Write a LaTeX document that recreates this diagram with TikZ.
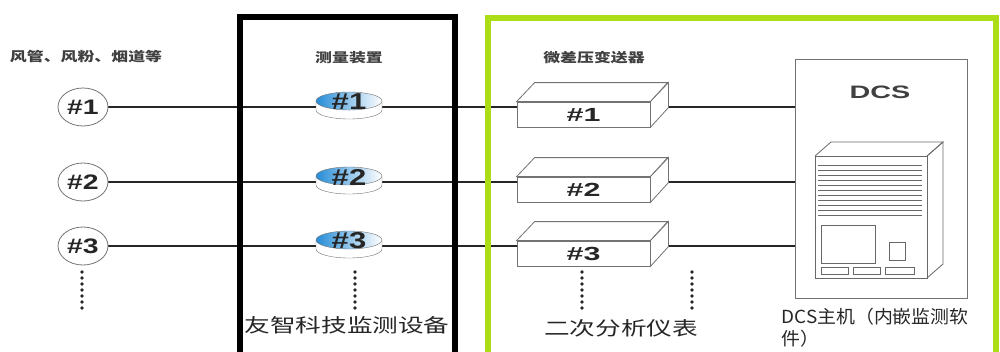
\documentclass[tikz,border=0pt]{standalone}
\usepackage{graphicx}
\usepackage{fontspec}
\setmainfont{Liberation Sans}
\newfontfamily\cjk{Noto Sans CJK SC}
\usetikzlibrary{shapes.geometric,backgrounds}

\definecolor{framegreen}{RGB}{172,222,24}
\definecolor{diskblue}{RGB}{38,140,215}
\definecolor{outline}{RGB}{115,115,115}

\newcommand{\hwide}[2][1.35]{\scalebox{#1}[1]{#2}}

\tikzset{
  pipe/.style={line width=1.8pt, black!85},
  source/.style={ellipse, draw=outline, thick, fill=white, minimum width=50pt,
    minimum height=38pt, inner sep=0pt, text=black!85,
    font=\bfseries\fontsize{21}{21}\selectfont},
  sender/.style={draw=outline, thick, fill=white, minimum width=133pt,
    minimum height=25pt, inner sep=0pt, text=black!85,
    font=\bfseries\fontsize{19}{19}\selectfont},
  heading/.style={text=black!75, font=\cjk\bfseries\fontsize{13}{13}\selectfont},
  caption/.style={text=black!85, font=\cjk\fontsize{19}{19}\selectfont},
  dot/.style={fill=black!85},
}

\begin{document}
\begin{tikzpicture}[x=1pt, y=-1pt]
  \useasboundingbox (0,0) rectangle (1000,351);
  \clip (0,0) rectangle (1000,351);

  % headings
  \node[heading] (hsrc) at (86,57) {\hwide[1.3]{风管、风粉、烟道等}};
  \node[heading] (hmeas) at (349,58) {\hwide[1.3]{测量装置}};
  \node[heading] (hsend) at (594,58) {\hwide[1.3]{微差压变送器}};

  % DCS host
  \node[draw=outline, thick, minimum width=172pt, minimum height=239pt] (dcs) at (881,178.5) {};
  \node[text=black!75, font=\bfseries\fontsize{18}{18}\selectfont] (dcsname) at (880,92) {\hwide[1.6]{DCS}};
  \begin{scope}[outline!90!black, thick]
    \draw (815,156) -- (831,142) -- (943,142) -- (927,156) ;
    \draw (927,156) -- (943,142) -- (943,264) -- (927,278) ;
    \draw (815,156) rectangle (927,278) ;
    \foreach \k in {0,...,10}
      \draw (818,165+5*\k) -- (922,165+5*\k) ;
    \draw (821,225) rectangle (875,263) ;
    \draw (889,242) rectangle (905,260) ;
    \draw (821,267) rectangle (848,274) ;
    \draw (853,267) rectangle (880,274) ;
    \draw (885,267) rectangle (914,274) ;
  \end{scope}

  \foreach \n/\y in {1/107, 2/182, 3/246} {
    % source point
    \node[source] (c\n) at (83,\y) {\hwide{\#\n}};
    % differential pressure transmitter
    \node[sender] (t\n) at (583.5,\y+7.5) {\hwide[1.6]{\#\n}};
    \draw[outline, thick, fill=white] (t\n.north west) -- ++(18,-19) -- ++(133,0) -- (t\n.north east) -- cycle ;
    \draw[outline, thick, fill=white] (t\n.north east) -- ++(18,-19) -- ++(0,25) -- (t\n.south east) -- cycle ;
    % measuring disk
    \draw[outline, fill=white] (316,\y-6) -- (316,\y+3)
      arc[start angle=180, end angle=360, x radius=33pt, y radius=9pt] -- (382,\y-6) -- cycle ;
    \draw[outline, left color=diskblue, right color=white] (349,\y-6)
      ellipse[x radius=33pt, y radius=9pt] ;
    \node[text=black!85, font=\bfseries\fontsize{23}{23}\selectfont] (m\n) at (349,\y-5) {\hwide{\#\n}};
    \begin{pgfonlayer}{background}
      \draw[pipe] (c\n) -- (c\n -| dcs.west) ;
    \end{pgfonlayer}
  }

  % more channels
  \foreach \x in {82, 355, 582, 692}
    \foreach \k in {0,...,6}
      \fill[dot] (\x,272+6*\k) circle (1.8pt) ;

  % frames
  \draw[line width=6pt] (240,17) rectangle (455,370) ;
  \draw[framegreen, line width=6pt] (488,18) rectangle (996,370) ;

  % captions
  \node[caption] (cdev) at (347,325) {\hwide{友智科技监测设备}};
  \node[caption] (cana) at (621,328) {\hwide{二次分析仪表}};
  \node[caption, anchor=west, font=\cjk\fontsize{18}{18}\selectfont] (chost) at (778,317) {\hwide[1.05]{DCS主机（内嵌监测软}};
  \node[caption, anchor=west, font=\cjk\fontsize{18}{18}\selectfont] (chost2) at (778,339) {\hwide[1.05]{件）}};
\end{tikzpicture}
\end{document}
